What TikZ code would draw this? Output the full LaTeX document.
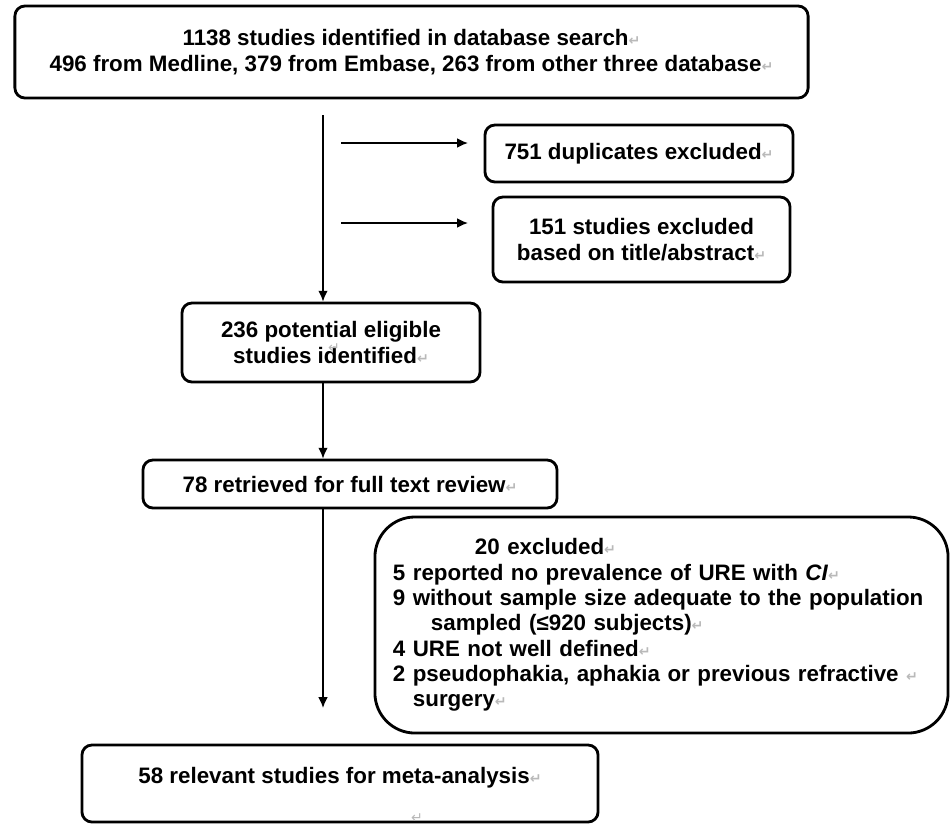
\documentclass[tikz,border=0pt]{standalone}
\usepackage{fontspec}
\setmainfont{Liberation Sans}
\newfontfamily\markfont{DejaVu Sans}
\usepackage{tikz}
\usetikzlibrary{shapes.geometric, arrows.meta, calc}
\hyphenpenalty=10000
\newcommand{\crmark}{{\markfont\fontsize{10}{10}\selectfont\color{gray!55}↵}}
\tikzstyle{stage} = [rectangle, rounded corners=0.25cm, line width=2pt, draw=black, fill=white, text centered, align=center, inner sep=0pt, font=\bfseries\fontsize{15.9}{18}\selectfont]
\tikzstyle{excl} = [stage, rounded corners=1cm, align=left, inner xsep=0.45cm]
\tikzstyle{stray} = [inner sep=0pt]
\tikzstyle{arrow} = [line width=1.1pt,->,>={Latex[length=0.27cm,width=0.24cm]}]

\begin{document}
\begin{tikzpicture}[x=0.025cm, y=-0.025cm]
            \useasboundingbox (0,0) rectangle (951,824);
            \node (search) [stage, minimum width=19.825cm, minimum height=2.3cm] at (411.5,52) {1138 studies identified in database search\crmark\\496 from Medline, 379 from Embase, 263 from other three database\crmark};
            \node (dup) [stage, minimum width=7.7cm, minimum height=1.425cm] at (639,153.5) {751 duplicates excluded\crmark};
            \node (title) [stage, minimum width=7.425cm, minimum height=2.125cm] at (641.5,239.5) {151 studies excluded\\based on title/abstract\crmark};
            \node (eligible) [stage, minimum width=7.45cm, minimum height=1.975cm] at (331,342.5) {236 potential eligible\\studies identified\crmark};
            \node (retrieved) [stage, minimum width=10.35cm, minimum height=1.2cm] at (350,484) {78 retrieved for full text review\crmark};
            \node (excluded) [excl, minimum width=14.325cm, minimum height=5.4cm, text width=13.425cm] at (661.5,625) {\hspace*{2.05cm}20 excluded\crmark\\
                5 reported no prevalence of URE with \textit{CI}\crmark\\
                9 without sample size adequate to the population\\
                \hspace*{0.95cm}sampled (≤920 subjects)\crmark\\
                4 URE not well defined\crmark\\
                2 pseudophakia, aphakia or previous refractive \crmark\\
                \hspace*{0.5cm}surgery\crmark};
            \node (meta) [stage, minimum width=12.9cm, text height=0.95cm, text depth=0.975cm] at (340,783.5) {58 relevant studies for meta-analysis\crmark};
            % leftover paragraph marks
            \node (stray1) [stray] at (334,348) {\crmark};
            \node (stray2) [stray] at (417,818) {\crmark};

            \coordinate (spine) at (323,115);
            \coordinate (dupfrom) at (341,143);
            \coordinate (dupto) at (468,143);
            \coordinate (titlefrom) at (341,223);
            \coordinate (titleto) at (468,223);
            \coordinate (metato) at (323,708);

            \draw [arrow] (spine) -- (eligible.north -| spine);
            \draw [arrow] (dupfrom) -- (dupto);
            \draw [arrow] (titlefrom) -- (titleto);
            \draw [arrow] (eligible.south -| spine) -- (retrieved.north -| spine);
            \draw [arrow] (retrieved.south -| spine) -- (metato);
        \end{tikzpicture}
\end{document}
